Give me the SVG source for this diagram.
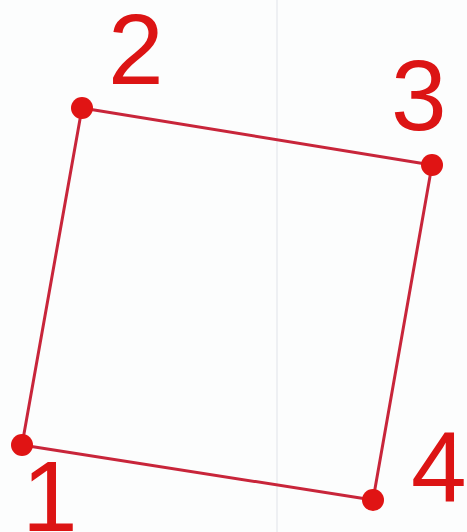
<svg xmlns="http://www.w3.org/2000/svg" width="467" height="532" viewBox="0 0 467 532">
<style>
.lbl{font-family:"Liberation Sans",Arial,sans-serif;font-size:100px;fill:#dc1414}
.edge{stroke:#c8253a;stroke-width:3;fill:none;stroke-linecap:round}
.pt{fill:#e01414}
</style>
<rect width="467" height="532" fill="#fcfdfd"/>
<line x1="277" y1="0" x2="277" y2="532" stroke="#eef0f3" stroke-width="2"/>
<g id="connectors">
<line class="edge" x1="22" y1="445" x2="82" y2="108"/>
<line class="edge" x1="82" y1="108" x2="432" y2="165"/>
<line class="edge" x1="432" y1="165" x2="373" y2="500"/>
<line class="edge" x1="373" y1="500" x2="22" y2="445"/>
</g>
<g id="n1"><circle class="pt" cx="22" cy="445" r="11"/><text class="lbl" x="22" y="531">1</text></g>
<g id="n2"><circle class="pt" cx="82" cy="108" r="11"/><text class="lbl" x="108" y="84">2</text></g>
<g id="n3"><circle class="pt" cx="432" cy="165" r="11"/><text class="lbl" x="391" y="130">3</text></g>
<g id="n4"><circle class="pt" cx="373" cy="500" r="11"/><text class="lbl" x="411" y="502">4</text></g>
</svg>
